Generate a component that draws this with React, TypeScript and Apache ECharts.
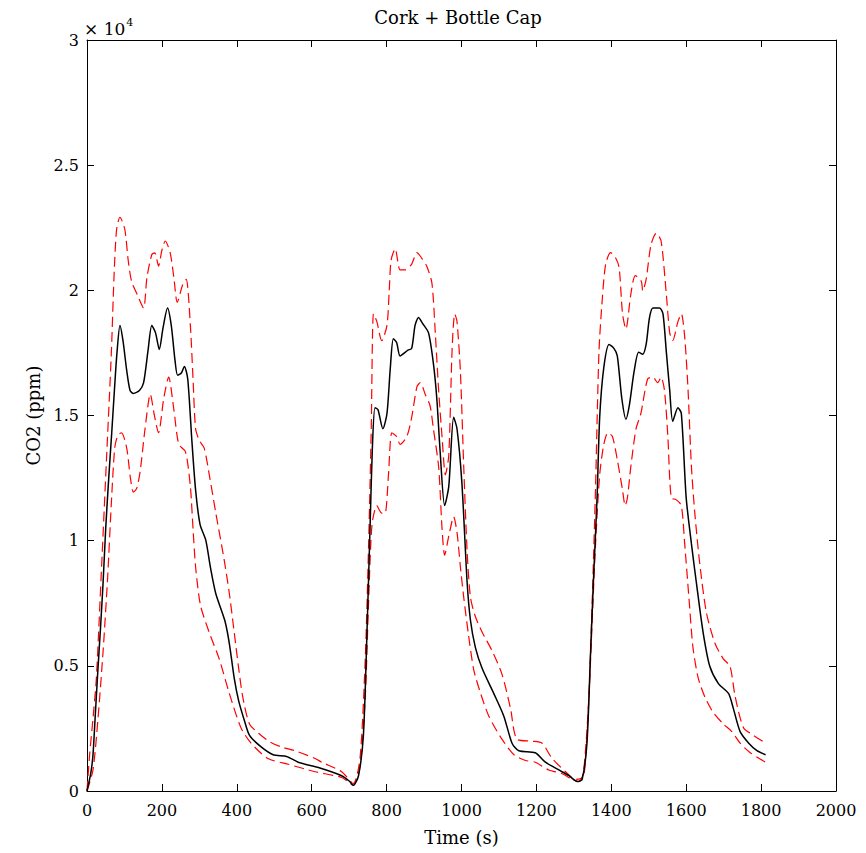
import React, { useEffect, useRef } from "react";
import * as echarts from "echarts";

const xTicks = [0, 200, 400, 600, 800, 1000, 1200, 1400, 1600, 1800, 2000];
const yTicks = [0, 5000, 10000, 15000, 20000, 25000, 30000];

const meanTime = [0, 10, 16, 22, 29, 36, 43, 50, 58, 66, 74, 80, 88, 96, 106, 115, 124, 140, 151, 163, 173, 183, 193, 203, 215, 225, 235, 242, 252, 260, 269, 280, 290, 302, 317, 330, 344, 368, 380, 393, 405, 420, 434, 465, 497, 533, 564, 622, 680, 700, 711, 725, 738, 747, 756, 762, 769, 777, 790, 801, 810, 818, 827, 836, 857, 867, 876, 885, 896, 912, 925, 934, 943, 955, 966, 979, 988, 1001, 1015, 1024, 1037, 1055, 1086, 1113, 1135, 1153, 1197, 1224, 1260, 1287, 1309, 1322, 1335, 1344, 1353, 1362, 1369, 1380, 1394, 1407, 1416, 1428, 1439, 1448, 1461, 1473, 1484, 1493, 1502, 1511, 1529, 1538, 1547, 1556, 1564, 1578, 1587, 1600, 1614, 1627, 1645, 1663, 1686, 1713, 1726, 1744, 1767, 1789, 1812];
const meanValue = [0, 700, 1450, 3000, 4820, 6500, 8340, 10500, 12500, 14300, 16200, 17500, 18600, 18000, 16800, 16000, 15880, 16000, 16300, 17600, 18600, 18300, 17640, 18500, 19290, 18600, 17200, 16610, 16700, 16960, 16460, 14000, 12020, 10640, 10030, 8900, 7880, 6810, 5900, 4520, 3600, 2830, 2220, 1760, 1450, 1380, 1150, 920, 610, 400, 230, 610, 2220, 6050, 10640, 13700, 15310, 15230, 14470, 15080, 16920, 18070, 17910, 17380, 17610, 17680, 18600, 18910, 18680, 18300, 17070, 15690, 13550, 11400, 12170, 14930, 14470, 12320, 8340, 6810, 5740, 4900, 3900, 2990, 1910, 1610, 1530, 1150, 840, 610, 380, 460, 1910, 5280, 8650, 11710, 14930, 16920, 17840, 17680, 17380, 15690, 14850, 15390, 16770, 17530, 17450, 17840, 18910, 19290, 19290, 19060, 17530, 16000, 14770, 15310, 15080, 11710, 9870, 8340, 6350, 4980, 4290, 3900, 3290, 2370, 1910, 1610, 1450];

const upperTime = [0, 7, 16, 25, 38, 52, 65, 72, 79, 88, 101, 110, 119, 135, 151, 160, 173, 181, 191, 200, 209, 222, 232, 241, 255, 265, 276, 283, 290, 300, 313, 328, 344, 366, 380, 393, 405, 416, 434, 465, 490, 519, 555, 609, 627, 680, 711, 729, 743, 752, 759, 765, 774, 787, 801, 807, 812, 823, 836, 850, 867, 881, 894, 907, 921, 930, 939, 948, 957, 966, 975, 982, 988, 997, 1006, 1015, 1024, 1037, 1055, 1082, 1108, 1131, 1148, 1188, 1215, 1242, 1278, 1304, 1322, 1331, 1340, 1349, 1358, 1367, 1376, 1385, 1398, 1412, 1421, 1430, 1439, 1452, 1464, 1480, 1484, 1493, 1506, 1520, 1533, 1547, 1556, 1564, 1578, 1587, 1596, 1605, 1614, 1623, 1636, 1654, 1677, 1699, 1717, 1731, 1753, 1780, 1812];
const upperValue = [0, 1450, 2900, 4500, 8650, 13240, 17500, 20500, 22430, 22920, 22430, 21200, 20360, 19800, 19290, 20500, 21430, 21500, 20970, 21600, 21970, 21510, 20500, 19520, 20200, 20440, 18600, 16500, 14470, 14000, 13700, 12500, 11100, 9260, 7900, 6350, 4900, 3750, 2680, 2220, 1950, 1760, 1610, 1300, 1150, 770, 300, 1300, 5280, 9870, 14470, 19060, 18750, 17990, 18600, 19980, 21200, 21660, 20820, 20820, 21050, 21510, 21280, 20970, 20290, 18300, 16000, 14160, 12630, 13400, 17680, 19060, 18750, 16770, 12940, 9570, 7730, 6970, 6350, 5590, 4670, 3290, 2070, 1990, 1910, 1300, 770, 460, 540, 1610, 3750, 7580, 12170, 17530, 19670, 21050, 21510, 21280, 20900, 19060, 18450, 19830, 20590, 20360, 19980, 20440, 21820, 22280, 21970, 19830, 18300, 17990, 18750, 19060, 18140, 16000, 12940, 11100, 9110, 7120, 5890, 5280, 4980, 3750, 2530, 2220, 1910];

const lowerTime = [0, 16, 29, 43, 55, 65, 74, 82, 92, 106, 116, 124, 133, 142, 155, 169, 180, 191, 205, 218, 232, 245, 263, 276, 283, 290, 303, 326, 353, 380, 411, 438, 483, 537, 609, 680, 711, 729, 743, 752, 761, 774, 787, 796, 805, 814, 827, 836, 854, 867, 881, 890, 903, 916, 925, 939, 948, 955, 966, 979, 988, 997, 1006, 1019, 1033, 1051, 1073, 1108, 1140, 1171, 1197, 1233, 1269, 1296, 1313, 1327, 1331, 1340, 1349, 1358, 1369, 1380, 1391, 1403, 1416, 1430, 1437, 1443, 1452, 1466, 1479, 1497, 1511, 1524, 1533, 1542, 1551, 1560, 1573, 1587, 1596, 1608, 1618, 1632, 1650, 1672, 1699, 1722, 1744, 1771, 1812];
const lowerValue = [0, 840, 2830, 5590, 8500, 11500, 13700, 14200, 14310, 13700, 12500, 11940, 12100, 12780, 14470, 15850, 15000, 14310, 15690, 16530, 15230, 13850, 13550, 12170, 10500, 8950, 7420, 6350, 5280, 3900, 2530, 1910, 1300, 1070, 770, 540, 230, 1000, 3750, 7580, 10640, 11400, 11100, 11100, 12630, 14310, 14160, 13850, 14160, 14930, 16150, 16310, 15850, 15390, 14470, 12940, 10490, 9420, 10180, 10950, 10330, 8960, 7730, 6200, 4820, 3900, 2990, 2070, 1450, 1220, 1150, 840, 690, 460, 380, 690, 1300, 3600, 6810, 9870, 12630, 13850, 14310, 14160, 13240, 12020, 11400, 11710, 12940, 14470, 15080, 16460, 16530, 16310, 16530, 16000, 14160, 11710, 11640, 11400, 9870, 7580, 5740, 4520, 3750, 3140, 2680, 2370, 1910, 1530, 1150];

const FONT = "DejaVu Serif";

function pairs(t: number[], v: number[]) {
  return t.map((x, i) => [x, v[i]]);
}

export default function App() {
  const ref = useRef<HTMLDivElement>(null);
  useEffect(() => {
    if (!ref.current) return;
    const chart = echarts.init(ref.current, null, { renderer: "svg" });
    const axisCommon = {
      axisLine: { show: true, onZero: false, lineStyle: { color: "#000", width: 1 } },
      axisTick: { show: true, inside: true, length: 7, lineStyle: { color: "#000" } },
      splitLine: { show: false },
    };
    chart.setOption({
      animation: false,
      backgroundColor: "#fff",
      textStyle: { fontFamily: FONT },
      title: {
        text: "Cork + Bottle Cap",
        left: 453,
        textAlign: "center",
        top: 3,
        textStyle: { fontFamily: FONT, fontSize: 18, fontWeight: "normal", color: "#000" },
      },
      graphic: [
        {
          type: "text",
          left: 84,
          top: 17,
          style: {
            text: "× 10{s|4}",
            fontFamily: FONT,
            fontSize: 17,
            fill: "#000",
            rich: { s: { fontSize: 11, fontFamily: FONT, verticalAlign: "top", padding: [0, 0, 12, 1] } },
          } as any,
        },
      ],
      grid: { left: 87, right: 30, top: 40, bottom: 62, containLabel: false },
      xAxis: [
        {
          type: "value",
          min: 0,
          max: 2000,
          interval: 200,
          position: "bottom",
          name: "Time (s)",
          nameLocation: "middle",
          nameGap: 37,
          nameTextStyle: { fontFamily: FONT, fontSize: 18, color: "#000" },
          axisLabel: { color: "#000", fontFamily: FONT, fontSize: 16, margin: 11, formatter: (v: number) => String(v) },
          ...axisCommon,
        },
        {
          type: "value",
          min: 0,
          max: 2000,
          interval: 200,
          position: "top",
          axisLabel: { show: false },
          ...axisCommon,
        },
      ],
      yAxis: [
        {
          type: "value",
          min: 0,
          max: 30000,
          interval: 5000,
          position: "left",
          name: "CO2 (ppm)",
          nameLocation: "middle",
          nameGap: 44,
          nameTextStyle: { fontFamily: FONT, fontSize: 18, color: "#000" },
          axisLabel: {
            color: "#000",
            fontFamily: FONT,
            fontSize: 16,
            margin: 8,
            formatter: (v: number) => String(v / 10000),
          },
          ...axisCommon,
        },
        {
          type: "value",
          min: 0,
          max: 30000,
          interval: 5000,
          position: "right",
          axisLabel: { show: false },
          ...axisCommon,
        },
      ],
      series: [
        {
          type: "line",
          name: "upper",
          data: pairs(upperTime, upperValue),
          showSymbol: false,
          symbol: "none",
          smooth: 0.25,
          lineStyle: { color: "#ff0000", width: 1.2, type: [10, 5] },
          z: 2,
        },
        {
          type: "line",
          name: "lower",
          data: pairs(lowerTime, lowerValue),
          showSymbol: false,
          symbol: "none",
          smooth: 0.25,
          lineStyle: { color: "#ff0000", width: 1.2, type: [10, 5] },
          z: 2,
        },
        {
          type: "line",
          name: "mean",
          data: pairs(meanTime, meanValue),
          showSymbol: false,
          symbol: "none",
          smooth: 0.25,
          lineStyle: { color: "#000000", width: 1.5 },
          z: 3,
        },
      ],
    });
    return () => chart.dispose();
  }, []);
  return (
    <div
      ref={ref}
      style={{ position: "absolute", left: 0, top: 0, width: 866, height: 853, background: "#fff" }}
    />
  );
}
